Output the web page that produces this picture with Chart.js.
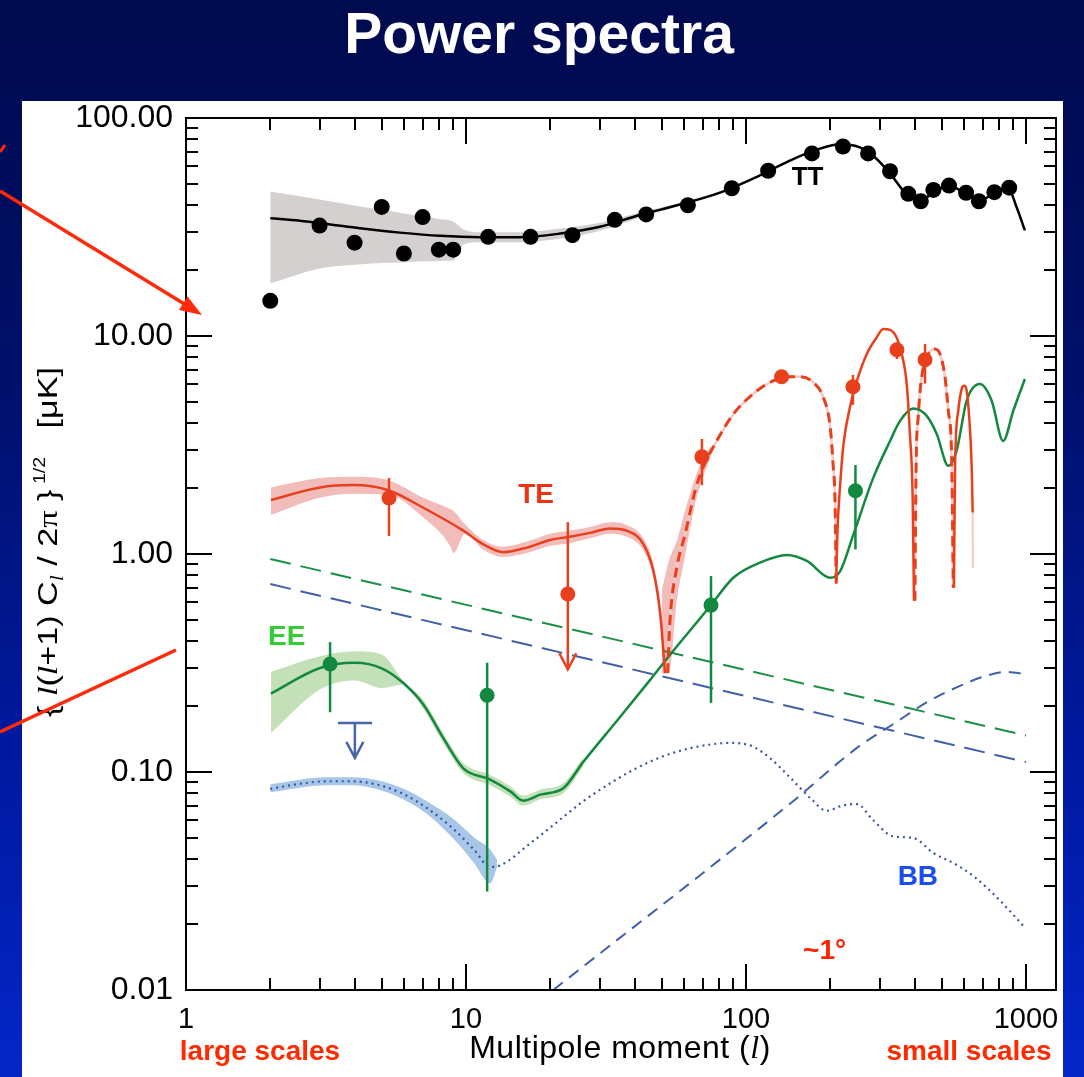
<!DOCTYPE html>
<html><head><meta charset="utf-8">
<script src="https://cdn.jsdelivr.net/npm/chart.js@4.4.0/dist/chart.umd.min.js"></script>
<style>
html,body{margin:0;padding:0;}
body{width:1084px;height:1077px;position:relative;overflow:hidden;
 background:linear-gradient(to bottom,#000a4e 0%,#00106a 35%,#0019a0 70%,#0426c8 100%);
 font-family:'Liberation Sans',Arial,Helvetica,sans-serif;}
#panel{position:absolute;left:22px;top:101px;width:1041px;height:976px;background:#fff;}
#c{position:absolute;left:0;top:0;}
#title{position:absolute;left:-3px;width:1084px;top:5px;text-align:center;color:#fff;font-weight:bold;font-size:57px;line-height:57px;white-space:nowrap;}
.lab{position:absolute;white-space:nowrap;transform:translateX(-50%);}
#xlab{left:620px;top:1031px;font-size:32px;line-height:32px;color:#000;letter-spacing:0.5px;}
.scl{top:1037px;font-size:28px;line-height:28px;font-weight:bold;color:#ff2a00;}
i.l{font-family:'Liberation Serif','Times New Roman',serif;font-style:italic;}
#ylab{position:absolute;left:48px;top:542px;white-space:nowrap;font-size:28px;line-height:28px;color:#000;
 transform:translate(-50%,-50%) rotate(-90deg) scaleX(1.22);}
#ylab sup{font-size:16px;vertical-align:12px;}
#ylab sub{font-size:18px;vertical-align:-6px;}
.pi{font-family:'Liberation Serif','Times New Roman',serif;}
#arrows{position:absolute;left:0;top:0;}
</style></head>
<body>
<div id="panel"></div>
<div id="title">Power spectra</div>
<canvas id="c" width="1084" height="1077"></canvas>
<div id="xlab" class="lab">Multipole moment (<i class="l">l</i>)</div>
<div class="lab scl" style="left:260px">large scales</div>
<div class="lab scl" style="left:969px">small scales</div>
<div id="ylab">{ <i class="l">l</i>(<i class="l">l</i>+1) C<sub><i class="l">l</i></sub> / 2<span class="pi">π</span> }<sup>&nbsp;1/2</sup>&nbsp;&nbsp;&nbsp;[μK]</div>
<svg id="arrows" width="1084" height="1077">
 <line x1="0" y1="191" x2="186" y2="305" stroke="#ff2a0a" stroke-width="3.5"/>
 <polygon points="202,315 179,310 187.5,296.5" fill="#ff2a0a"/>
 <line x1="0" y1="732" x2="176" y2="650" stroke="#ff2a0a" stroke-width="3.5"/>
 <line x1="0" y1="152" x2="5" y2="145" stroke="#ff2a0a" stroke-width="3"/>
</svg>
<script>
// ---------- DATA ----------
// TT measured points
const ttL = [2,3,4,5,6,7,8,9,12,17,24,34,44,62,89,120,172,222,273,327,380,421,467,531,611,679,771,871];
const ttV = [14.5,32.1,26.8,39.1,23.9,35.1,24.9,24.9,28.5,28.5,29.0,34.1,36.1,39.8,47.6,57.3,68.8,74.0,68.8,57.0,44.9,41.5,46.8,49.0,45.4,41.5,45.7,47.9];
// TT model
const ttModelL = [2,2.55,3.27,4.18,5.81,8.07,11.2,15.6,21.7,30.1,41.8,58.1,80.7,112,144,176,217,255,289,327,370,418,473,531,606,685,775,862,921,991];
const ttModelV = [34.7,33.8,32.5,31.2,29.8,28.8,28.4,28.4,29.5,31.7,35.9,40.1,45.5,54.5,63.9,71,75.7,73.3,65.9,55.7,45.5,41.8,46,49,45.1,41.8,45.5,48,39.7,30.5];
// TT uncertainty band
const ttBandL  = [2,3,4,5,6,7,8,9,9.8,11.2,15.6,21.7,30.1,41.8,58.1];
const ttBandHi = [46.0,42.3,39.7,37.9,36.5,35.4,34.4,33.5,30.8,29.9,29.9,31.1,33.1,36.9,40.6];
const ttBandLo = [17.4,20.4,21.2,21.6,21.8,22.0,22.1,22.2,26.3,26.9,26.9,28.0,30.4,34.9,39.6];

// TE measured points with error bars
const teL  = [5.31,23.1,69.6,134,241,346,436];
const teV  = [1.81,0.655,2.79,6.5,5.85,8.65,7.78];
const teLo = [1.21,0.296,2.07,6.3,4.83,7.84,6.05];
const teHi = [2.23,1.40,3.37,6.7,6.63,9.35,9.2];
const teIsLimit = [false,true,false,false,false,false,false];
// TE model: solid = positive, dashed = negative (|TE|)
const teSolid1L = [2.01,3.01,3.96,5.28,7.04,9.78,11.5,13.6,16.5,20,23.5,27.7,32.7,37.5,43,46.7,49.3,50.7,51.4];
const teSolid1V = [1.77,2.02,2.07,1.96,1.63,1.28,1.11,1.02,1.07,1.16,1.20,1.25,1.31,1.28,1.11,0.835,0.547,0.358,0.284];
const teDash1L = [52.5,53.5,56.6,60.6,65.8,69.5,78.6,90.1,106,125,144,156,174,189,200,205,208,210];
const teDash1V = [0.284,0.49,0.865,1.23,1.95,2.41,3.30,4.38,5.42,6.23,6.50,6.50,6.12,5.22,3.80,2.49,1.75,0.73];
const teSolid2L = [210,212,217,223,235,249,270,293,309,327,345,360,375,385,394,398];
const teSolid2V = [0.73,1.23,2.09,3.19,4.70,6.23,8.27,9.85,10.77,10.66,9.85,8.27,6.02,3.55,1.75,0.61];
const teDash2L = [401,405,412,424,448,473,493,514,528,543,550];
const teDash2V = [0.61,2.49,4.23,6.45,8.27,8.72,8.27,6.45,4.54,2.67,0.70];
const teSolid3L = [553,558,573,589,602,614,627,640,645];
const teSolid3V = [0.70,2.49,4.54,5.71,5.91,5.61,4.23,2.49,1.55];
const teTailL = [645,646];
const teTailV = [1.55,0.86];
// TE bands
const teBandL  = [2.01,3.01,3.96,5.28,7.04,8.77,9.01,9.92,11.5,13.6,16.5,20,23.5,27.7,32.7,37.5,43,46.7,49.3];
const teBandHi = [2.02,2.23,2.26,2.18,1.81,1.61,1.58,1.37,1.16,1.08,1.14,1.24,1.28,1.33,1.40,1.36,1.18,0.90,0.61];
const teBandLo = [1.51,1.81,1.89,1.87,1.47,1.09,1.01,1.24,1.05,0.97,1.01,1.09,1.12,1.18,1.24,1.20,1.04,0.78,0.49];
const teBand2L  = [50.0,53,56.6,60.6,65.8,69.5,75];
const teBand2Hi = [0.676,0.929,1.147,1.58,2.23,2.67,3.13];
const teBand2Lo = [0.284,0.284,0.61,0.98,1.70,2.16,2.82];

// EE measured points
const eeL  = [3.27,11.9,75,246];
const eeV  = [0.313,0.225,0.583,1.95];
const eeLo = [0.188,0.0283,0.2075,1.05];
const eeHi = [0.394,0.317,0.792,2.56];
// EE model
const eeModelL = [2.01,3.01,4.01,5.0,5.97,7.04,8.30,9.78,12.2,14.4,16.0,18.4,22.3,26.2,34.5,45.4,52.1,68.5,75,90.1,112,140,165,200,217,242,285,327,355,396,442,480,528,565,614,685,754,829,901,991];
const eeModelV = [0.229,0.300,0.317,0.299,0.256,0.204,0.143,0.104,0.0923,0.0815,0.0739,0.0787,0.0844,0.111,0.171,0.264,0.330,0.506,0.583,0.778,0.912,0.99,0.929,0.778,0.835,1.23,2.24,3.30,4.08,4.65,4.30,3.55,2.54,2.97,5.05,6.02,5.05,3.30,4.54,6.35];
const eeBandL  = [2.01,3.01,4.01,5.0,5.97,7.04,8.30,9.78,12.2,14.4,16.0,18.4,22.3,26.2];
const eeBandHi = [0.288,0.340,0.358,0.346,0.262,0.214,0.150,0.110,0.097,0.086,0.078,0.083,0.089,0.116];
const eeBandLo = [0.151,0.239,0.263,0.243,0.252,0.195,0.136,0.099,0.087,0.077,0.070,0.075,0.080,0.106];

// BB model (dotted) and band
const bbModelL = [2.0,2.57,3.18,3.92,4.83,5.96,7.35,9.06,10.7,12.2,13.2,17.0,21.0,25.9,31.9,39.4,48.5,59.9,73.8,87.4,103,122,145,171,194,220,249,283,335,396,468,553,655,808,988];
const bbModelV = [0.0837,0.0884,0.0907,0.0907,0.0874,0.0794,0.0675,0.0545,0.0439,0.0367,0.0372,0.0472,0.0585,0.0726,0.0869,0.102,0.1156,0.1264,0.1334,0.1359,0.1327,0.1156,0.0932,0.0752,0.0664,0.070,0.0713,0.0606,0.0507,0.0498,0.0424,0.0381,0.033,0.0257,0.0194];
const bbBandL  = [2.0,3.18,3.92,4.83,5.96,7.35,9.06,10.7,12.2,12.9];
const bbBandHi = [0.0878,0.0946,0.0946,0.0916,0.0839,0.0726,0.0606,0.0501,0.0441,0.0397];
const bbBandLo = [0.0807,0.0869,0.0869,0.0833,0.0749,0.0633,0.0491,0.0381,0.0308,0.0365];
// BB upper limit
const bbLimL = [4.01];
const bbLimBarL = [3.49, 4.62];
const bbLimV = [0.168];
const bbLimTip = [0.116];

// Foregrounds (straight dashed) and tensor BB (rising dashed)
const eeFgL = [2,1000];  const eeFgV = [0.948,0.147];
const bbFgL = [2,1000];  const bbFgV = [0.728,0.111];
const tensL = [20.5,147,249,335,449,601,714,855,997];
const tensV = [0.01,0.0733,0.129,0.1656,0.211,0.253,0.275,0.288,0.281];

// In-plot labels
const annText  = ['TT','TE','EE','BB','~1°'];
const annL     = [166,17.8,2.29,411,191];
const annV     = [53.3,1.85,0.416,0.0328,0.015];
const annColor = ['#000000','#ee3311','#33cc33','#1a4cf0','#ff2200'];
const annSize  = [26,28,28,28,28];

// Axis ticks
const xTickVals = [1,10,100,1000];
const yTickVals = [0.01,0.1,1,10,100];

// ---------- COLOURS ----------
const C = {tt:'#000000', te:'#e8401c', teBand:'#f2bcbb', tePale:'#f5c8c5', ee:'#12893e', eeBand:'#c4e0b8',
           bb:'#3a56a0', bbBand:'#a8c6e8', fgEE:'#1a8f45', fgBB:'#4060a8', grey:'#d4d0d0'};

// ---------- BUILD ----------
Chart.defaults.font.family = "'Liberation Sans', Arial, Helvetica, sans-serif";
const P = (ls, vs) => ls.map((l, i) => ({x: l, y: vs[i]}));
function line(ls, vs, color, width, dash, order) {
  return {data: P(ls, vs), borderColor: color, borderWidth: width, borderDash: dash || [],
    pointRadius: 0, pointHoverRadius: 0, fill: false, cubicInterpolationMode: 'monotone',
    order: order, borderCapStyle: 'butt', borderJoinStyle: 'round'};
}
function band(ls, hi, lo, color, order) {
  return [
    {data: P(ls, hi), borderWidth: 0, borderColor: 'rgba(0,0,0,0)', backgroundColor: color, pointRadius: 0,
     fill: '+1', cubicInterpolationMode: 'monotone', order: order},
    {data: P(ls, lo), borderWidth: 0, borderColor: 'rgba(0,0,0,0)', backgroundColor: color, pointRadius: 0,
     fill: false, cubicInterpolationMode: 'monotone', order: order}
  ];
}
function dots(ls, vs, color, r, order) {
  return {data: P(ls, vs), showLine: false, pointRadius: r, pointHoverRadius: r, pointBackgroundColor: color,
    pointBorderWidth: 0, pointBorderColor: color, borderColor: color, order: order};
}

const datasets = [
  ...band(ttBandL, ttBandHi, ttBandLo, C.grey, 20),
  ...band(teBandL, teBandHi, teBandLo, C.teBand, 20),
  ...band(teBand2L, teBand2Hi, teBand2Lo, C.teBand, 20),
  ...band(eeBandL, eeBandHi, eeBandLo, C.eeBand, 20),
  ...band(bbBandL, bbBandHi, bbBandLo, C.bbBand, 20),
  line(eeFgL, eeFgV, C.fgEE, 2, [21, 10], 8),
  line(bbFgL, bbFgV, C.fgBB, 2, [21, 10], 8),
  line(tensL, tensV, C.fgBB, 2, [12, 8], 8),
  line(bbModelL, bbModelV, C.bb, 2.2, [2, 4], 7),
  line(teDash1L, teDash1V, C.tePale, 2.5, [], 6),
  line(teDash2L, teDash2V, C.tePale, 2.5, [], 6),
  line(teTailL, teTailV, C.tePale, 2, [], 6),
  line(eeModelL, eeModelV, C.ee, 2.5, [], 5),
  line(teSolid1L, teSolid1V, C.te, 2.5, [], 4),
  line(teSolid2L, teSolid2V, C.te, 2.5, [], 4),
  line(teSolid3L, teSolid3V, C.te, 2.5, [], 4),
  line(teDash1L, teDash1V, C.te, 3, [10, 6], 4),
  line(teDash2L, teDash2V, C.te, 3, [10, 6], 4),
  line(ttModelL, ttModelV, C.tt, 2.5, [], 4),
  dots(ttL, ttV, C.tt, 8, 1),
  dots(teL, teV, C.te, 7.5, 1),
  dots(eeL, eeV, C.ee, 7.5, 1)
];

const overlay = {
  id: 'overlay',
  afterDatasetsDraw(chart) {
    const {ctx, scales: {x, y}} = chart;
    ctx.save();
    ctx.lineCap = 'butt';
    function vbar(l, lo, hi, color, w) {
      const px = x.getPixelForValue(l);
      ctx.strokeStyle = color; ctx.lineWidth = w;
      ctx.beginPath(); ctx.moveTo(px, y.getPixelForValue(hi)); ctx.lineTo(px, y.getPixelForValue(lo)); ctx.stroke();
    }
    function arrowHead(l, v, color, w) {
      const px = x.getPixelForValue(l), py = y.getPixelForValue(v);
      ctx.strokeStyle = color; ctx.lineWidth = w; ctx.lineJoin = 'miter';
      ctx.beginPath(); ctx.moveTo(px - 8.5, py - 16); ctx.lineTo(px, py); ctx.lineTo(px + 8.5, py - 16); ctx.stroke();
    }
    teL.forEach((l, i) => {
      vbar(l, teLo[i], teHi[i], C.te, 2.5);
      if (teIsLimit[i]) arrowHead(l, teLo[i], C.te, 2.5);
    });
    eeL.forEach((l, i) => vbar(l, eeLo[i], eeHi[i], C.ee, 2.5));
    // BB upper limit
    const bc = '#4a64a8';
    ctx.strokeStyle = bc; ctx.lineWidth = 2.5;
    ctx.beginPath();
    ctx.moveTo(x.getPixelForValue(bbLimBarL[0]), y.getPixelForValue(bbLimV[0]));
    ctx.lineTo(x.getPixelForValue(bbLimBarL[1]), y.getPixelForValue(bbLimV[0]));
    ctx.stroke();
    vbar(bbLimL[0], bbLimTip[0], bbLimV[0], bc, 2.5);
    arrowHead(bbLimL[0], bbLimTip[0], bc, 2.5);
    // labels
    ctx.textAlign = 'center'; ctx.textBaseline = 'middle';
    annText.forEach((t, i) => {
      ctx.fillStyle = annColor[i];
      ctx.font = 'bold ' + annSize[i] + "px 'Liberation Sans', Arial, sans-serif";
      ctx.fillText(t, x.getPixelForValue(annL[i]), y.getPixelForValue(annV[i]));
    });
    ctx.restore();
  },
  afterDraw(chart) {
    const {ctx, chartArea: a, scales: {x, y}} = chart;
    ctx.save();
    ctx.strokeStyle = '#000'; ctx.lineWidth = 2;
    ctx.strokeRect(a.left, a.top, a.right - a.left, a.bottom - a.top);
    ctx.beginPath();
    for (const d of [1, 10, 100, 1000]) for (let m = 1; m < 10; m++) {
      const v = m * d; if (v > x.max || v <= x.min) continue;
      const px = Math.round(x.getPixelForValue(v)); const len = m === 1 ? 26 : 12;
      ctx.moveTo(px, a.bottom); ctx.lineTo(px, a.bottom - len);
      ctx.moveTo(px, a.top); ctx.lineTo(px, a.top + len);
    }
    for (const d of [0.01, 0.1, 1, 10]) for (let m = 1; m < 10; m++) {
      const v = m * d; if (v <= y.min || v >= y.max) continue;
      const py = Math.round(y.getPixelForValue(v)); const len = m === 1 ? 26 : 12;
      ctx.moveTo(a.left, py); ctx.lineTo(a.left + len, py);
      ctx.moveTo(a.right, py); ctx.lineTo(a.right - len, py);
    }
    ctx.stroke();
    ctx.restore();
  }
};

new Chart(document.getElementById('c'), {
  type: 'line',
  data: {datasets},
  options: {
    responsive: false, animation: false, devicePixelRatio: 1,
    layout: {padding: {left: 0, top: 118, right: 28, bottom: 0}},
    plugins: {legend: {display: false}, tooltip: {enabled: false}},
    scales: {
      x: {type: 'logarithmic', min: 1, max: 1280, position: 'bottom',
        grid: {display: false, drawTicks: false}, border: {display: false},
        afterBuildTicks: s => { s.ticks = xTickVals.map(v => ({value: v})); },
        afterFit: s => { s.height = 87; },
        ticks: {color: '#000', font: {size: 29}, padding: 13, maxRotation: 0, autoSkip: false,
          callback: v => String(v)}},
      y: {type: 'logarithmic', min: 0.01, max: 100, position: 'left',
        grid: {display: false, drawTicks: false}, border: {display: false},
        afterBuildTicks: s => { s.ticks = yTickVals.map(v => ({value: v})); },
        afterFit: s => { s.width = 186; },
        ticks: {color: '#000', font: {size: 32}, padding: 13, autoSkip: false,
          callback: v => Number(v).toFixed(2)}}
    }
  },
  plugins: [overlay]
});
</script>
</body></html>
